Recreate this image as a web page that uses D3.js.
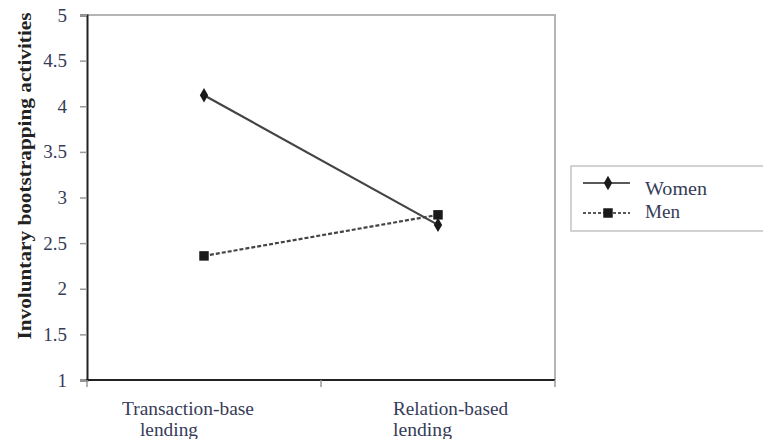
<!DOCTYPE html>
<html><head><meta charset="utf-8">
<script src="https://cdn.jsdelivr.net/npm/d3@7"></script>
<style>body{margin:0;background:#fff}</style>
</head><body>
<svg id="c" width="763" height="439"></svg>
<script>
const categories = ["Transaction-base lending", "Relation-based lending"];
const categoryLines = [["Transaction-base", "lending"], ["Relation-based", "lending"]];
const women = [4.12, 2.70];
const men = [2.36, 2.81];
const yTicks = [1, 1.5, 2, 2.5, 3, 3.5, 4, 4.5, 5];
const yTickLabels = ["1", "1.5", "2", "2.5", "3", "3.5", "4", "4.5", "5"];
const seriesNames = ["Women", "Men"];
const yTitle = "Involuntary bootstrapping activities";

const svg = d3.select("#c");
const m = {l: 87, r: 555, t: 15, b: 380};
const txt = "#363b58";
const font = "Liberation Serif, Times New Roman, serif";

const x = d3.scalePoint().domain(categories).range([m.l, m.r]).padding(0.5);
const y = d3.scaleLinear().domain([1, 5]).range([m.b, m.t]);

// plot frame (top/right light)
svg.append("path").attr("d", `M${m.l},${m.t}H${m.r}V${m.b}`)
  .attr("fill", "none").attr("stroke", "#b4b4b4").attr("stroke-width", 2);

// y axis
const yAx = svg.append("g").attr("transform", `translate(${m.l},0)`)
  .call(d3.axisLeft(y).tickValues(yTicks).tickFormat((d, i) => yTickLabels[i]).tickSize(7).tickPadding(13));
yAx.select(".domain").attr("stroke", "#222").attr("stroke-width", 2);
yAx.selectAll(".tick line").attr("stroke", "#999").attr("stroke-width", 1.5);
yAx.selectAll("text").attr("font-family", font).attr("font-size", 19).attr("fill", txt);

// x axis with boundary ticks
const xAx = svg.append("g").attr("transform", `translate(0,${m.b})`);
xAx.append("line").attr("x1", m.l - 1).attr("x2", m.r).attr("stroke", "#222").attr("stroke-width", 2);
const step = x.step();
const bounds = [x(categories[0]) - step / 2, x(categories[0]) + step / 2, x(categories[1]) + step / 2];
xAx.selectAll(".bt").data(bounds).join("line")
  .attr("x1", d => d).attr("x2", d => d).attr("y1", 0).attr("y2", 7)
  .attr("stroke", "#999").attr("stroke-width", 1.5);
const offs = [[-82, -64], [-45, -45]];
const lens = [[132, 58], [115, 59]];
categories.forEach((c, i) => {
  categoryLines[i].forEach((ln, j) => {
    xAx.append("text").attr("font-family", font).attr("font-size", 18).attr("fill", txt)
      .attr("x", x(c) + offs[i][j]).attr("y", 35 + j * 21)
      .attr("textLength", lens[i][j]).attr("lengthAdjust", "spacingAndGlyphs").text(ln);
  });
});

// y title
svg.append("text").attr("transform", `translate(31,${176}) rotate(-90)`)
  .attr("text-anchor", "middle").attr("font-family", font).attr("font-weight", "bold")
  .attr("font-size", 18).attr("fill", "#222")
  .attr("textLength", 327).attr("lengthAdjust", "spacingAndGlyphs").text(yTitle);

// lines
const line = d3.line().x((d, i) => x(categories[i])).y(d => y(d));
svg.append("path").datum(women).attr("d", line).attr("fill", "none")
  .attr("stroke", "#444").attr("stroke-width", 2.2);
svg.append("path").datum(men).attr("d", line).attr("fill", "none")
  .attr("stroke", "#444").attr("stroke-width", 2.2).attr("stroke-dasharray", "4,2");

const diamond = d3.symbol().type(d3.symbolDiamond).size(60);
const square = d3.symbol().type(d3.symbolSquare).size(90);
svg.selectAll(".wm").data(women).join("path")
  .attr("transform", (d, i) => `translate(${x(categories[i])},${y(d)})`)
  .attr("d", diamond).attr("fill", "#1a1a1a");
svg.selectAll(".mm").data(men).join("path")
  .attr("transform", (d, i) => `translate(${x(categories[i])},${y(d)})`)
  .attr("d", square).attr("fill", "#1a1a1a");

// legend
const lg = svg.append("g");
lg.append("rect").attr("x", 571).attr("y", 166).attr("width", 200).attr("height", 65)
  .attr("fill", "#fff").attr("stroke", "#c4c4c4").attr("stroke-width", 1.5);
const lineY = [183, 213];
const textY = [195, 218];
const textLens = [62, 35];
[0, 1].forEach(i => {
  const yy = lineY[i];
  lg.append("line").attr("x1", 583).attr("x2", 630).attr("y1", yy).attr("y2", yy)
    .attr("stroke", "#222").attr("stroke-width", 1.5).attr("stroke-dasharray", i ? "3,2" : null);
  lg.append("path").attr("transform", `translate(608,${yy})`).attr("d", i ? square : diamond).attr("fill", "#1a1a1a");
  lg.append("text").attr("x", 645).attr("y", textY[i]).attr("font-family", font).attr("font-size", 18)
    .attr("textLength", textLens[i]).attr("lengthAdjust", "spacingAndGlyphs")
    .attr("fill", txt).text(seriesNames[i]);
});
</script>
</body></html>
